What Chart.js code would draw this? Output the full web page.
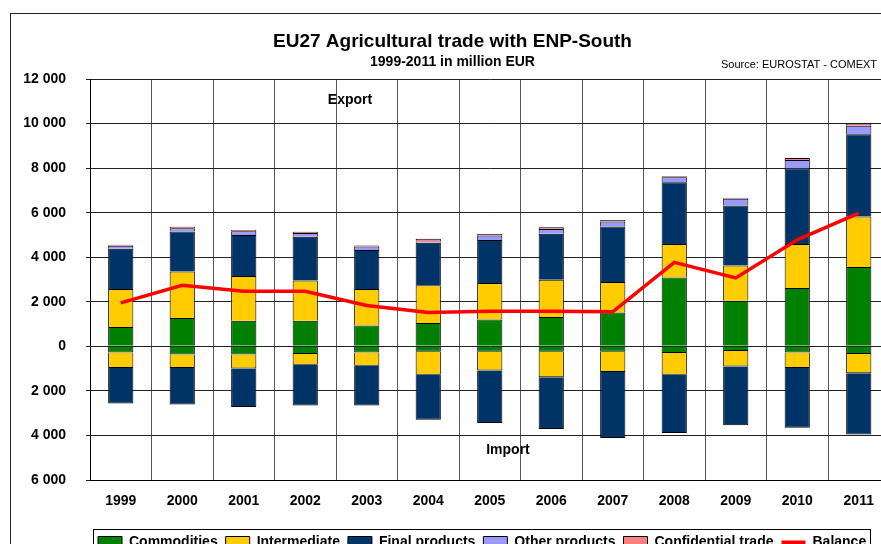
<!DOCTYPE html>
<html>
<head>
<meta charset="utf-8">
<script src="https://cdn.jsdelivr.net/npm/chart.js@4/dist/chart.umd.min.js"></script>
<style>
  html, body { margin: 0; padding: 0; background: #fff; overflow: hidden; }
  #wrap { width: 900px; height: 565px; }
</style>
</head>
<body>
<div id="wrap"><canvas id="tradeChart" width="900" height="565"></canvas></div>
<script>
// values in million EUR
const years = ["1999", "2000", "2001", "2002", "2003", "2004", "2005", "2006", "2007", "2008", "2009", "2010", "2011"];

const commoditiesExport = [870, 1270, 1150, 1150, 930, 1050, 1200, 1320, 1520, 3090, 2050, 2620, 3560];
const intermediateExport = [1700, 2090, 2010, 1800, 1640, 1690, 1640, 1670, 1370, 1500, 1580, 1970, 2270];
const finalExport = [1810, 1800, 1840, 1970, 1750, 1910, 1930, 2060, 2490, 2780, 2690, 3390, 3690];
const otherExport = [130, 140, 170, 170, 160, 60, 200, 220, 220, 220, 300, 380, 380];
const confidentialExport = [50, 70, 50, 50, 50, 120, 70, 70, 70, 50, 50, 90, 100];

const commoditiesImport = [-280, -370, -370, -340, -280, -240, -240, -240, -240, -300, -210, -280, -340];
const intermediateImport = [-690, -600, -620, -490, -590, -1030, -850, -1150, -910, -970, -700, -690, -870];
const finalImport = [-1600, -1640, -1730, -1830, -1790, -2030, -2350, -2320, -2960, -2620, -2630, -2690, -2750];

const balance = [1950, 2740, 2470, 2470, 1830, 1520, 1570, 1570, 1550, 3770, 3070, 4780, 5980];

const yTicks = [-6000, -4000, -2000, 0, 2000, 4000, 6000, 8000, 10000, 12000];

const GREEN = "#008000", YELLOW = "#FFCC00", NAVY = "#003366", LILAC = "#9999FF", PINK = "#FF8080";

Chart.defaults.font.family = '"Liberation Sans", Arial, sans-serif';
Chart.defaults.color = "#000";

function barSet(label, data, color, isImport) {
    return {
        type: "bar",
        label: label,
        data: data,
        backgroundColor: color,
        borderColor: "#000",
        borderWidth: 1,
        isImport: isImport,
        barPercentage: 0.41,
        categoryPercentage: 1
    };
}

// text & frames that excel puts around the plot
const decorations = {
    id: "decorations",
    afterDraw(chart) {
        const ctx = chart.ctx;
        ctx.save();
        ctx.strokeStyle = "#222";
        ctx.lineWidth = 1;
        ctx.strokeRect(10.5, 13.5, 1000, 1000);

        ctx.fillStyle = "#000";
        ctx.textAlign = "center";
        ctx.textBaseline = "middle";
        ctx.font = 'bold 19px "Liberation Sans", Arial, sans-serif';
        ctx.fillText("EU27 Agricultural trade with ENP-South", 452.5, 41.5);
        ctx.font = 'bold 14px "Liberation Sans", Arial, sans-serif';
        ctx.fillText("1999-2011 in million EUR", 452.5, 62);
        ctx.fillText("Export", 350, 100);
        ctx.fillText("Import", 508, 450);
        ctx.textAlign = "left";
        ctx.font = '11px "Liberation Sans", Arial, sans-serif';
        ctx.fillText("Source: EUROSTAT - COMEXT", 721, 65);

        // box round the legend
        const boxes = chart.legend.legendHitBoxes;
        if (boxes && boxes.length) {
            const first = boxes[0], last = boxes[boxes.length - 1];
            ctx.strokeStyle = "#000";
            ctx.strokeRect(Math.round(first.left) - 4.5, Math.round(first.top) - 6.5,
                Math.round(last.left + last.width - first.left) + 9, first.height + 12);
        }
        ctx.restore();
    }
};

new Chart(document.getElementById("tradeChart").getContext("2d"), {
    data: {
        labels: years,
        datasets: [
            barSet("Commodities", commoditiesExport, GREEN, false),
            barSet("Commodities import", commoditiesImport, GREEN, true),
            barSet("Intermediate", intermediateExport, YELLOW, false),
            barSet("Intermediate import", intermediateImport, YELLOW, true),
            barSet("Final products", finalExport, NAVY, false),
            barSet("Final products import", finalImport, NAVY, true),
            barSet("Other products", otherExport, LILAC, false),
            barSet("Confidential trade", confidentialExport, PINK, false),
            {
                type: "line",
                label: "Balance",
                data: balance,
                borderColor: "#FF0000",
                backgroundColor: "#FF0000",
                borderWidth: 3.5,
                pointRadius: 0,
                tension: 0,
                fill: false,
                stack: "balance",
                order: -1
            }
        ]
    },
    options: {
        responsive: false,
        animation: false,
        layout: { padding: { left: 10, right: 10.5, top: 79, bottom: 5.5 } },
        plugins: {
            tooltip: { enabled: false },
            legend: {
                position: "bottom",
                fullSize: false,
                align: "start",
                labels: {
                    usePointStyle: true,
                    pointStyleWidth: 24,
                    boxHeight: 12,
                    padding: 8,
                    font: { size: 14, weight: "bold" },
                    generateLabels(chart) {
                        return chart.data.datasets
                            .map((ds, i) => ({
                                text: ds.label,
                                fillStyle: ds.backgroundColor,
                                strokeStyle: ds.type === "line" ? ds.borderColor : "#000",
                                lineWidth: ds.type === "line" ? 4 : 1,
                                pointStyle: ds.type === "line" ? "line" : "rect",
                                fontColor: "#000",
                                hidden: false,
                                datasetIndex: i
                            }))
                            .filter(item => !chart.data.datasets[item.datasetIndex].isImport);
                    },
                    sort: (a, b) => a.datasetIndex - b.datasetIndex
                }
            }
        },
        scales: {
            x: {
                stacked: true,
                offset: true,
                afterFit(scale) { scale.height = 47.5; },
                grid: { offset: true, color: "#555", lineWidth: 1, drawTicks: false },
                border: { color: "#000" },
                ticks: { padding: 13, font: { size: 14, weight: "bold" } }
            },
            y: {
                stacked: true,
                min: -6000,
                max: 12000,
                afterFit(scale) { scale.width = 80; },
                afterBuildTicks(scale) { scale.ticks = yTicks.map(v => ({ value: v })); },
                grid: { color: "#222", lineWidth: 1, tickLength: 4 },
                border: { color: "#000" },
                ticks: {
                    padding: 20,
                    font: { size: 14, weight: "bold" },
                    callback: v => Math.abs(v).toString().replace(/\B(?=(\d{3})+(?!\d))/g, " ")
                }
            }
        }
    },
    plugins: [decorations]
});
</script>
</body>
</html>
